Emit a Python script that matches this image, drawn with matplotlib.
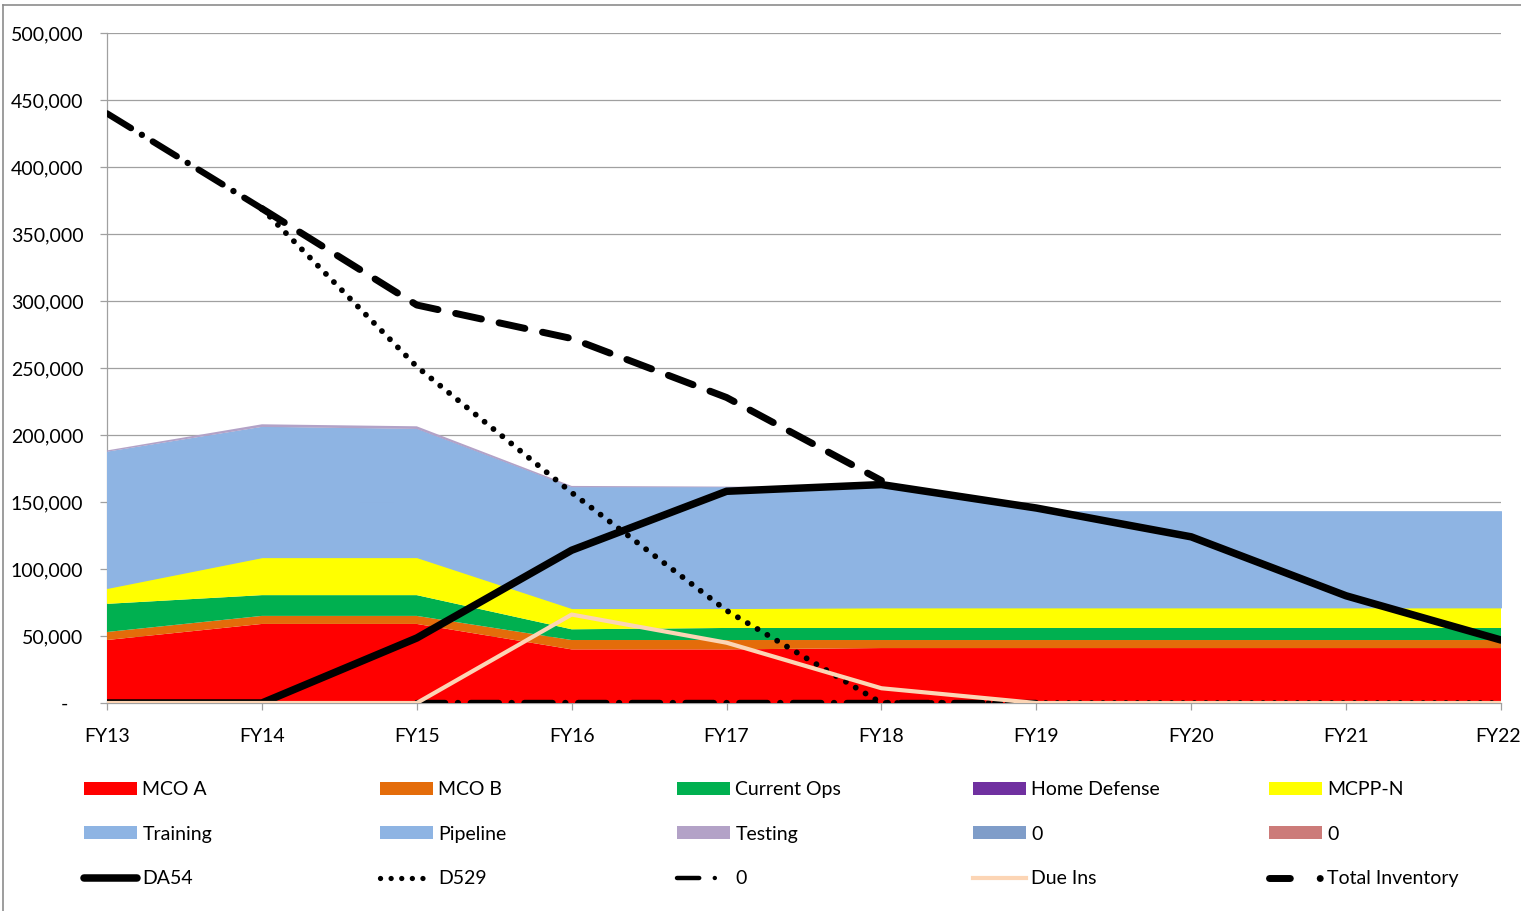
import numpy as np
import matplotlib
matplotlib.use('Agg')
import matplotlib.pyplot as plt
import matplotlib.transforms as mtransforms
from matplotlib.lines import Line2D
from matplotlib.patches import Patch
from matplotlib.ticker import FuncFormatter

plt.rcParams['font.family'] = ['Lato', 'DejaVu Sans']

years = ['FY13', 'FY14', 'FY15', 'FY16', 'FY17', 'FY18', 'FY19', 'FY20', 'FY21', 'FY22']

# stacked areas
mco_a = [47000, 59000, 59000, 40000, 40000, 41000, 41000, 41000, 41000, 41000]
mco_b = [6000, 6000, 6000, 7000, 7000, 6000, 6000, 6000, 6000, 6000]
current_ops = [21000, 15500, 15500, 8000, 9000, 9000, 9000, 9000, 9000, 9000]
home_defense = [0, 0, 0, 0, 0, 0, 0, 0, 0, 0]
mcpp_n = [12000, 28500, 28500, 16000, 15000, 15500, 15500, 15500, 15500, 15500]
training = [45000, 42000, 41000, 40000, 40000, 40000, 32000, 32000, 32000, 32000]
pipeline = [56500, 55000, 54500, 50000, 50000, 49500, 39500, 39500, 39500, 39500]
testing = [1000, 2000, 2000, 1000, 500, 0, 0, 0, 0, 0]
zero_a = [0, 0, 0, 0, 0, 0, 0, 0, 0, 0]
zero_b = [0, 0, 0, 0, 0, 0, 0, 0, 0, 0]

# lines
da54 = [0, 0, 48500, 114000, 158000, 163000, 145500, 124000, 80000, 47000]
d529 = [np.nan, 369000, 251000, 157000, 69000, 0, 0, 0, 0, 0]
zero_line = [440000, 369000, 0, 0, 0, 0, 0, np.nan, np.nan, np.nan]
due_ins = [0, 0, 0, 66000, 45000, 11000, 0, 0, 0, 0]
total_inv = [np.nan, 369000, 297000, 272000, 228000, 166000, np.nan, np.nan, np.nan, np.nan]

area_names = ['MCO A', 'MCO B', 'Current Ops', 'Home Defense', 'MCPP-N',
              'Training', 'Pipeline', 'Testing', '0', '0']
area_colors = ['#FF0000', '#E46C0A', '#00B050', '#7030A0', '#FFFF00',
               '#8EB4E3', '#8EB4E3', '#B3A2C7', '#7F9DC9', '#CC7B79']

W, H = 1521, 911
fig = plt.figure(figsize=(W / 100, H / 100), dpi=100)
ax = fig.add_axes([107 / W, 1 - 703 / H, (1501 - 107) / W, (703 - 33) / H])

x = np.arange(len(years))
polys = ax.stackplot(x, mco_a, mco_b, current_ops, home_defense, mcpp_n,
                     training, pipeline, testing, zero_a, zero_b,
                     colors=area_colors, linewidth=0, zorder=2)
# hide the seam between Training and Pipeline (same colour)
for i in (5, 6):
    polys[i].set_edgecolor(area_colors[i])
    polys[i].set_linewidth(1.0)
polys[7].set_zorder(2.5)

ax.plot(x, da54, color='black', lw=5.4, solid_joinstyle='round',
        solid_capstyle='round', zorder=4)
ax.plot(x, d529, color='black', lw=4.2, dashes=(0.01, 1.95),
        dash_capstyle='round', zorder=5)
# the "0" series has a break between FY14 and FY15
zl_dash = (4.4, 2.0, 0.01, 2.0)
ax.plot(x[:2], zero_line[:2], color='black', lw=4.6, dashes=zl_dash,
        dash_capstyle='round', zorder=5)
ax.plot(x[2:], zero_line[2:], color='black', lw=4.6, dashes=zl_dash,
        dash_capstyle='round', zorder=5)
ax.plot(x, due_ins, color='#FCD5B5', lw=3.0, solid_joinstyle='round', zorder=6)
ax.plot(x, total_inv, color='black', lw=5.0, dashes=(3.8, 2.6),
        dash_capstyle='round', zorder=5)

ax.set_xlim(0, 9)
ax.set_ylim(0, 500000)
ax.set_yticks(np.arange(0, 500001, 50000))
ax.yaxis.set_major_formatter(FuncFormatter(
    lambda v, p: '-   ' if v == 0 else '{:,.0f}'.format(v)))
ax.set_xticks(x)
ax.set_xticklabels(years)
ax.grid(axis='y', color='#A0A0A0', lw=0.9, zorder=1)
ax.set_axisbelow(True)
for s in ['top', 'right']:
    ax.spines[s].set_visible(False)
for s in ['left', 'bottom']:
    ax.spines[s].set_color('#A0A0A0')
    ax.spines[s].set_linewidth(0.9)
    ax.spines[s].set_zorder(1)
ax.tick_params(axis='both', colors='#A0A0A0', labelcolor='black',
               labelsize=14, length=5, width=0.9)
ax.tick_params(axis='y', pad=12)
ax.tick_params(axis='x', pad=13)

# last label sits against the right edge
last = ax.get_xticklabels()[-1]
last.set_transform(last.get_transform() +
                   mtransforms.ScaledTranslation(-3 / 100, 0, fig.dpi_scale_trans))

# chart border
fig.add_artist(Line2D([3 / W, 3 / W], [0, 1 - 5 / H], color='#8C8C8C', lw=1.2))
fig.add_artist(Line2D([3 / W, 1], [1 - 5 / H, 1 - 5 / H], color='#8C8C8C', lw=1.2))

# legend handles
patches = [Patch(facecolor=c, edgecolor=c, lw=0) for c in area_colors]
lh_da54 = Line2D([], [], color='black', lw=5.4, solid_capstyle='round')
lh_d529 = Line2D([], [], color='black', lw=3.8, dashes=(0.01, 2.0),
                 dash_capstyle='round')
lh_zero = Line2D([], [], color='black', lw=3.2, dashes=(5.0, 3.5, 0.01, 3.5),
                 dash_capstyle='round')
lh_due = Line2D([], [], color='#FCD5B5', lw=3.0)
lh_total = Line2D([], [], color='black', lw=5.0, dashes=(3.0, 4.3, 0.01, 3),
                  dash_capstyle='round')

columns = [
    [(patches[0], 'MCO A'), (patches[5], 'Training'), (lh_da54, 'DA54')],
    [(patches[1], 'MCO B'), (patches[6], 'Pipeline'), (lh_d529, 'D529')],
    [(patches[2], 'Current Ops'), (patches[7], 'Testing'), (lh_zero, '0')],
    [(patches[3], 'Home Defense'), (patches[8], '0'), (lh_due, 'Due Ins')],
    [(patches[4], 'MCPP-N'), (patches[9], '0'), (lh_total, 'Total Inventory')],
]
col_x = [84, 380, 677, 973, 1269]
for cx, col in zip(col_x, columns):
    fig.legend([c[0] for c in col], [c[1] for c in col],
               loc='upper left', bbox_to_anchor=(cx / W, 1 - 781 / H),
               frameon=False, fontsize=14, handlelength=2.7,
               handleheight=0.65, handletextpad=0.3, labelspacing=1.42,
               borderpad=0, borderaxespad=0)

fig.savefig('out.png', dpi=100)
